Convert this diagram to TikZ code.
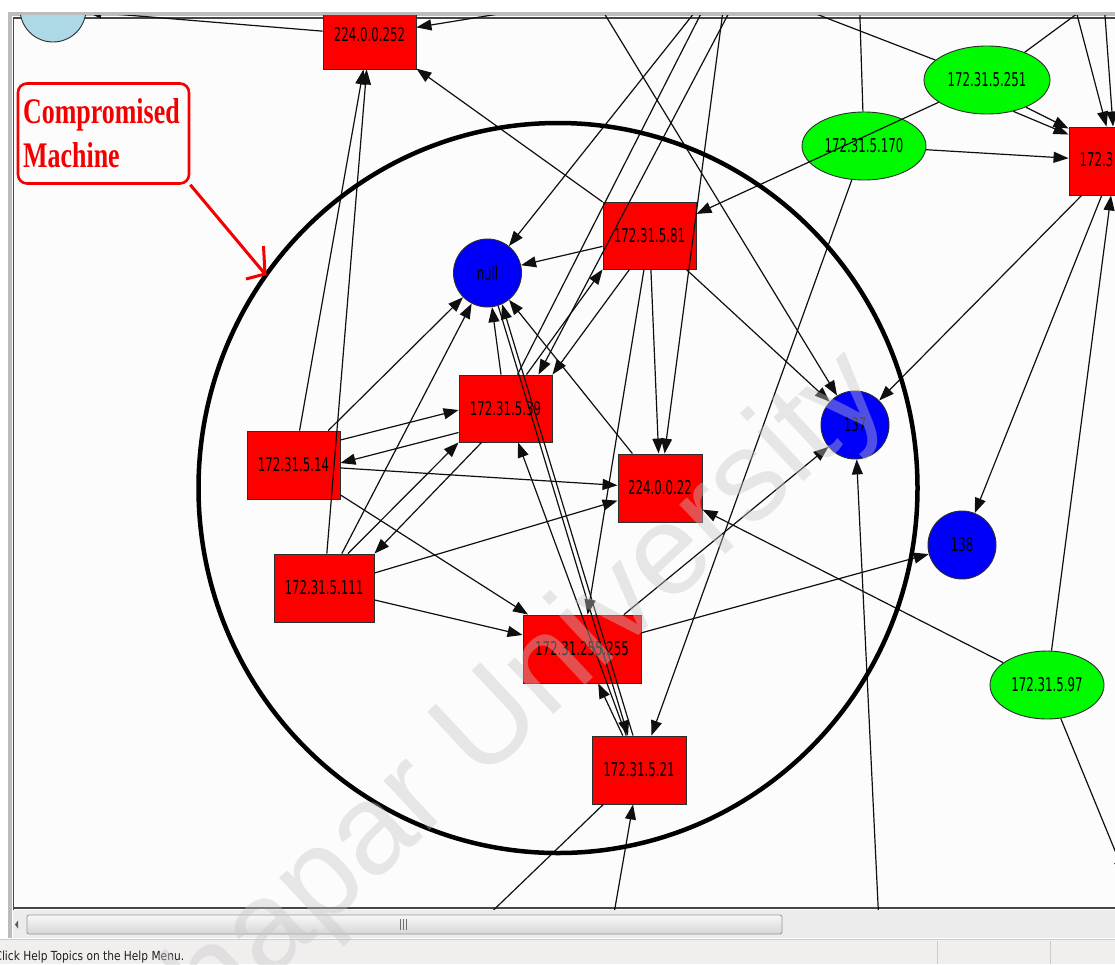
\documentclass[tikz,border=0pt]{standalone}
\usepackage{fontspec}
\usetikzlibrary{arrows.meta,shapes.geometric,calc}
\newfontfamily\labelfont[FakeStretch=0.62]{DejaVu Sans}
\newfontfamily\noteserif[FakeStretch=0.72]{Liberation Serif}
\newfontfamily\markfont{Liberation Sans}
\newfontfamily\statusfont[FakeStretch=0.85]{DejaVu Sans}

\definecolor{hostred}{RGB}{252,0,0}
\definecolor{peergreen}{RGB}{0,250,0}
\definecolor{portblue}{RGB}{0,0,250}
\definecolor{relaycyan}{RGB}{173,216,230}
\definecolor{outline}{RGB}{45,45,45}
\definecolor{linkgray}{RGB}{15,15,15}
\definecolor{canvasbg}{RGB}{251,252,251}
\definecolor{chrome}{RGB}{188,188,188}
\definecolor{chromedark}{RGB}{70,70,70}
\definecolor{trackbg}{RGB}{236,236,236}
\definecolor{statusbg}{RGB}{242,238,238}
\definecolor{callred}{RGB}{245,0,0}
\definecolor{thumbedge}{RGB}{150,150,150}
\definecolor{thumbtop}{RGB}{248,248,248}
\definecolor{thumbbottom}{RGB}{214,214,214}
\definecolor{gripgray}{RGB}{110,110,110}
\definecolor{arrowgray}{RGB}{90,90,90}
\definecolor{sepgray}{RGB}{202,202,202}
\definecolor{statustext}{RGB}{30,30,30}

\tikzset{
  nodetext/.style={font=\labelfont\fontsize{19}{19}\selectfont, text=black},
  hostbox/.style={rectangle, draw=outline, line width=0.9pt, fill=hostred, inner sep=0pt, nodetext},
  peer/.style={ellipse, draw=outline, line width=0.9pt, fill=peergreen, inner sep=0pt, minimum height=68pt, nodetext},
  port/.style={circle, draw=outline, line width=0.9pt, fill=portblue, inner sep=0pt, minimum size=68pt, nodetext},
  link/.style={draw=linkgray, line width=1.2pt, -{Triangle[length=15pt,width=11pt]}},
}

\begin{document}
\begin{tikzpicture}[x=1pt, y=-1pt]
\useasboundingbox (0,0) rectangle (1115,964);
\fill[white] (0,0) rectangle (1115,964);

% viewer window: canvas and frame
\fill[canvasbg] (13,17) rectangle (1115,910);
\fill[chrome] (8,12) rectangle (1115,15.5);
\fill[chrome] (8,12) rectangle (11.5,938);
\draw[chromedark, line width=1.2pt] (13.3,910) -- (13.3,18) -- (1115,18);
\draw[chromedark, line width=1.4pt] (13.3,908) -- (1115,908);

% off-canvas end points of links
\coordinate (topA) at (714,-12);
\coordinate (topB) at (742,-12);
\coordinate (topC) at (726,-12);
\coordinate (inA) at (560,4);
\coordinate (inB) at (590,-10);
\coordinate (outC) at (754,-10);
\coordinate (outD) at (859,-12);
\coordinate (outE) at (1112,-12);
\coordinate (inF) at (1070,-12);
\coordinate (inG) at (1103,-12);
\coordinate (outH) at (1125,875);
\coordinate (outI) at (478,925);
\coordinate (inJ) at (612,925);
\coordinate (inK) at (879,925);

\begin{scope}
\clip (13.3,15) rectangle (1115,913);

% hosts
\node[circle, draw=outline, line width=0.9pt, fill=relaycyan, minimum size=66pt, inner sep=0pt] (lb) at (53,9) {};
\node[hostbox, minimum width=93pt, minimum height=68pt] (n252) at (369.5,35) {224.0.0.252};
\node[hostbox, minimum width=93pt, minimum height=67pt] (n81) at (649.5,235.5) {172.31.5.81};
\node[hostbox, minimum width=93pt, minimum height=67pt] (n39) at (505.5,408.5) {172.31.5.39};
\node[hostbox, minimum width=93pt, minimum height=68pt] (n14) at (293.5,465) {172.31.5.14};
\node[hostbox, minimum width=100pt, minimum height=68pt] (n111) at (324,588) {172.31.5.111};
\node[hostbox, minimum width=84pt, minimum height=68pt] (n22) at (660,488) {224.0.0.22};
\node[hostbox, minimum width=118pt, minimum height=68pt] (n255) at (582,649) {172.31.255.255};
\node[hostbox, minimum width=94pt, minimum height=68pt] (n21) at (639,770) {172.31.5.21};
\node[hostbox, minimum width=93pt, minimum height=68pt] (nR) at (1115.5,161) {};
\node[nodetext, anchor=west, inner sep=0pt] (nRlabel) at (1079.5,160) {172.3};

\node[port] (nnull) at (487.5,273) {null};
\node[port] (n137) at (855,425) {137};
\node[port] (n138) at (962,545) {138};

\node[peer, minimum width=126pt] (e251) at (987,80) {172.31.5.251};
\node[peer, minimum width=124pt] (e170) at (864,146) {172.31.5.170};
\node[peer, minimum width=114pt] (e97) at (1047,685) {172.31.5.97};

% links
\draw[link] (n252) -- (lb);
\draw[link] (inA) -- (n252);
\draw[link] (n14) -- (n252);
\draw[link] (n111) -- (n252);
\draw[link] (n81) -- (n252);

\draw[link] (topA) -- (nnull);
\draw[link] ($(n39.north)+(12,0)$) -- (topA);
\draw[link] (topB) -- ($(n39.north)+(33,0)$);
\draw[link] (topC) -- (n22);
\draw[link] (inB) -- (n137);

\draw[link] (e251) -- (outC);
\draw[link] (e170) -- (outD);
\draw[link] (e251) -- (outE);
\draw[link] (inF) -- (nR);
\draw[link] (inG) -- (nR);
\draw[link] (e251.-50) -- ($(nR.north west)+(0,8)$);
\draw[link] (e251.-35) -- ($(nR.north west)+(0,2)$);
\draw[link] (e170) -- (nR);
\draw[link] (e251) -- (n81);
\draw[link] (nR) -- (n137);
\draw[link] (nR) -- (n138);
\draw[link] (e97) -- (nR);
\draw[link] (e97) -- (n22);
\draw[link] (e97) -- (outH);

\draw[link] (n81) -- (nnull);
\draw[link] (n81) -- (n137);
\draw[link] (n81) -- (n22);
\draw[link] (n81) -- (n255);
\draw[link] ($(n81.south)+(-20,0)$) -- (n39.north east);
\draw[link] ($(n39.north)+(21,0)$) -- (n81.south west);

\draw[link] (n22) -- (nnull);
\draw[link] (n14) -- (nnull);
\draw[link] (n111) -- (nnull);
\draw[link] (n39) -- (nnull);

\draw[link] ($(n14.east)+(0,-25)$) -- ($(n39.west)+(0,1.5)$);
\draw[link] ($(n39.west)+(0,24)$) -- ($(n14.east)+(0,-2)$);
\draw[link] ($(n111.north)+(24,0)$) -- (n39.south west);
\draw[link] ($(n39.south west)+(23,0)$) -- (n111.north east);

\draw[link] (n14) -- (n22);
\draw[link] (n111) -- (n22);
\draw[link] (n14) -- (n255);
\draw[link] (n111) -- (n255);
\draw[link] (n255) -- (n137);
\draw[link] (n255) -- (n138);

\draw[link] (e170) -- (n21);
\draw[link] (n21) -- (n255);
\draw[link] (n21) -- (n39);
\draw[link] (nnull.-72) -- ($(n21.north)+(-11,0)$);
\draw[link] ($(n21.north)+(-6,0)$) -- (nnull.-65);
\draw[link] (n21) -- (outI);
\draw[link] (inJ) -- (n21);
\draw[link] (inK) -- (n137);
\end{scope}

% ring round the compromised group
\draw[black, line width=4.5pt] (558,488) ellipse [x radius=359.5pt, y radius=365pt];

% callout
\node[draw=callred, line width=2.6pt, rounded corners=9pt, minimum width=171pt, minimum height=100pt, inner sep=0pt] (callout) at (103.5,133.5) {};
\node[anchor=base west, inner sep=0pt, text=callred, font=\noteserif\bfseries\fontsize{36}{36}\selectfont] (calltop) at (23,123) {Compromised};
\node[anchor=base west, inner sep=0pt, text=callred, font=\noteserif\bfseries\fontsize{36}{36}\selectfont] (callbottom) at (23,167) {Machine};
\coordinate (calltip) at (265,274);
\coordinate (callbarbA) at (263.5,246);
\coordinate (callbarbB) at (246,279);
\draw[callred, line width=3pt] (callout.south east) -- (calltip);
\draw[callred, line width=3pt, line join=miter] (callbarbA) -- (calltip) -- (callbarbB);

% scroll bar
\fill[trackbg] (13.3,910) rectangle (1115,938);
\node[draw=thumbedge, line width=0.8pt, rounded corners=2pt, top color=thumbtop, bottom color=thumbbottom, minimum width=755pt, minimum height=19pt, inner sep=0pt] (thumb) at (404.5,924.5) {};
\foreach \gx in {400.5,403.5,406.5}
  \draw[gripgray, line width=0.8pt] (\gx,919) -- (\gx,930);
\fill[arrowgray] (15,924.5) -- (18,920.5) -- (18,928.5) -- cycle;

% status bar
\fill[statusbg] (0,939) rectangle (1115,964);
\draw[sepgray, line width=0.8pt] (0,939) -- (1115,939);
\draw[sepgray, line width=0.8pt] (937,941) -- (937,964);
\draw[sepgray, line width=0.8pt] (1050,941) -- (1050,964);
\node[anchor=base west, inner sep=0pt, font=\statusfont\fontsize{12.5}{12.5}\selectfont, text=statustext] (status) at (-5.6,960) {Click Help Topics on the Help Menu.};

% watermark
\node[rotate=43, text=gray!45, text opacity=0.4, inner sep=0pt, font=\markfont\fontsize{128}{128}\selectfont] (mark) at (502,718) {Thapar University};
\end{tikzpicture}
\end{document}
